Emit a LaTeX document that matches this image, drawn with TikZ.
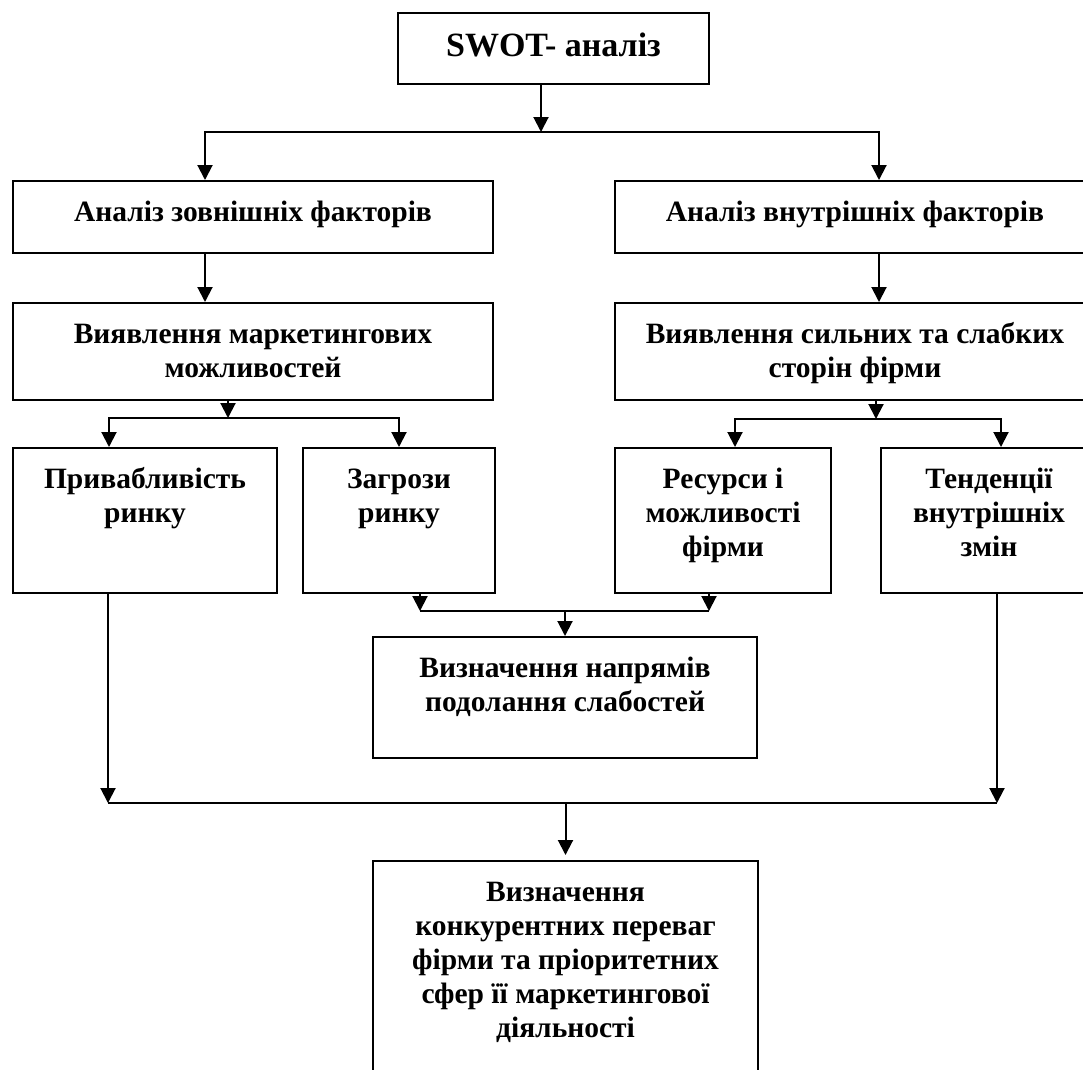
\documentclass[tikz,border=0pt]{standalone}
\usepackage{fontspec}
\setmainfont{Liberation Serif}
\usetikzlibrary{arrows.meta,positioning}

\begin{document}
\begin{tikzpicture}[
  x=1pt, y=-1pt,
  font=\bfseries\fontsize{29.5}{34}\selectfont,
  textdrop/.store in=\textdrop, textdrop=40pt,
  box/.style 2 args={draw, line width=2pt, anchor=north west, inner sep=0pt,
    minimum width=#1, minimum height=#2,
    execute at begin node={\begin{minipage}[t][#2][t]{#1}\centering\rule{0pt}{\textdrop}},
    execute at end node={\end{minipage}}},
  ln/.style={line width=2pt},
  arr/.style={ln, -{Triangle[length=15pt, width=15pt]}}
]
\useasboundingbox (0,0) rectangle (1083,1069);

% --- top and the two kinds of factors
\node[box={311pt}{71pt}, textdrop=43pt, font=\bfseries\fontsize{34}{39}\selectfont] (swot) at (397,12) {SWOT- аналіз};
\node[box={480pt}{72pt}] (ext) at (12,180) {Аналіз зовнішніх факторів};
\node[box={480pt}{72pt}, right=120pt of ext] (int) {Аналіз внутрішніх факторів};
\node[box={480pt}{97pt}, below=48pt of ext] (mkt) {Виявлення маркетингових\\можливостей};
\node[box={480pt}{97pt}, below=48pt of int] (sw) {Виявлення сильних та слабких\\сторін фірми};

% --- four factor boxes
\node[box={264pt}{145pt}, below=46pt of mkt.south west, anchor=north west] (attr) {Привабливість\\ринку};
\node[box={192pt}{145pt}, right=24pt of attr] (thr) {Загрози\\ринку};
\node[box={216pt}{145pt}, below=46pt of sw.south west, anchor=north west] (res) {Ресурси і\\можливості\\фірми};
\node[box={216pt}{145pt}, right=48pt of res] (trd) {Тенденції\\внутрішніх\\змін};

% --- results
\node[box={384pt}{121pt}] (weak) at (372,636) {Визначення напрямів\\подолання слабостей};
\node[box={385pt}{230pt}, below=101pt of weak.south west, anchor=north west] (adv)
  {Визначення\\конкурентних переваг\\фірми та пріоритетних\\сфер її маркетингової\\діяльності};

% --- split from the top
\coordinate (s1) at (541,132);
\draw[arr] (swot.south -| s1) -- (s1);
\draw[arr] (s1) -| ([xshift=-48pt]ext.north);
\draw[arr] (s1) -| ([xshift=24pt]int.north);
\draw[arr] ([xshift=-48pt]ext.south) -- ([xshift=-48pt]mkt.north);
\draw[arr] ([xshift=24pt]int.south) -- ([xshift=24pt]sw.north);

% --- second split
\coordinate (s2) at (228,418);
\draw[arr] (mkt.south -| s2) -- (s2);
\draw[arr] (s2) -| ([xshift=-36pt]attr.north);
\draw[arr] (s2) -| (thr.north);
\coordinate (s3) at (876,419);
\draw[arr] (sw.south -| s3) -- (s3);
\draw[arr] (s3) -| ([xshift=12pt]res.north);
\draw[arr] (s3) -| ([xshift=12pt]trd.north);

% --- merges
\coordinate (m1l) at (420,611);
\coordinate (m1r) at (709,611);
\draw[arr] (thr.south -| m1l) -- (m1l);
\draw[arr] (res.south -| m1r) -- (m1r);
\draw[ln] (m1l) -- (m1r);
\draw[arr] (m1l -| weak.north) -- (weak.north);

\coordinate (m2l) at (108,803);
\coordinate (m2r) at (997,803);
\draw[arr] (attr.south -| m2l) -- (m2l);
\draw[arr] (trd.south -| m2r) -- (m2r);
\draw[ln] (m2l) -- (m2r);
\draw[arr, shorten >=5pt] (m2l -| adv.north) -- (adv.north);
\end{tikzpicture}
\end{document}
